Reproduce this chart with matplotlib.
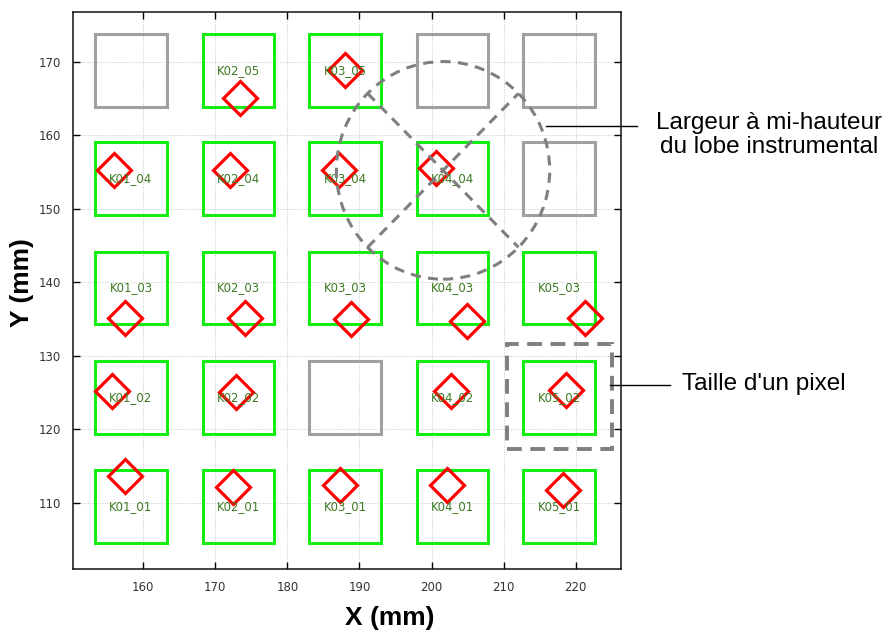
import matplotlib
matplotlib.use("Agg")
import matplotlib.pyplot as plt
from matplotlib.patches import Rectangle, Ellipse
from matplotlib.lines import Line2D
import numpy as np

# Detector grid: column / row centres (mm) and pixel footprint
col_names = ["K01", "K02", "K03", "K04", "K05"]
col_x = [158.3, 173.2, 188.0, 202.9, 217.7]
row_names = ["01", "02", "03", "04", "05"]
row_y = [109.5, 124.3, 139.2, 154.1, 168.8]
pixel_side = 9.9

# Pixels that are not operational (drawn in grey, no label)
dead_pixels = ["K01_05", "K04_05", "K05_05", "K05_04", "K03_02"]

# Measured beam centroids for the working pixels (mm)
beam_names = ["K01_01", "K02_01", "K03_01", "K04_01", "K05_01",
              "K01_02", "K02_02", "K04_02", "K05_02",
              "K01_03", "K02_03", "K03_03", "K04_03", "K05_03",
              "K01_04", "K02_04", "K03_04", "K04_04",
              "K02_05", "K03_05"]
beam_x = [157.5, 172.5, 187.3, 202.2, 218.2,
          155.7, 172.9, 202.7, 218.6,
          157.5, 174.1, 188.8, 204.9, 221.3,
          156.0, 172.0, 187.2, 200.6,
          173.4, 188.0]
beam_y = [113.6, 112.1, 112.4, 112.4, 111.7,
          125.2, 125.0, 125.2, 125.3,
          135.1, 135.1, 135.0, 134.7, 135.1,
          155.2, 155.2, 155.2, 155.5,
          165.1, 168.8]

# Instrumental beam FWHM circle and pixel pitch box
fwhm_center = (201.6, 155.2)
fwhm_radius = 14.8
pitch_box_center = (217.75, 124.45)
pitch_box_size = (14.55, 14.3)

x_ticks = [160, 170, 180, 190, 200, 210, 220]
y_ticks = [110, 120, 130, 140, 150, 160, 170]

fig = plt.figure(figsize=(8.9, 6.31), dpi=100)
ax = fig.add_axes([0.0824, 0.0985, 0.6154, 0.8820])
ax.set_xlim(150.3, 226.3)
ax.set_ylim(101.0, 176.7)

ax.set_xticks(x_ticks)
ax.set_yticks(y_ticks)
ax.grid(True, color="#c8c8c8", linestyle=(0, (1, 1.5)), linewidth=0.7)
ax.set_axisbelow(True)
ax.tick_params(direction="in", length=5, width=1.0, top=True, right=True,
               labelsize=8.5, labelcolor="#333333", pad=9)
for lab in ax.get_xticklabels() + ax.get_yticklabels():
    lab.set_family("DejaVu Sans")
for sp in ax.spines.values():
    sp.set_linewidth(1.1)
    sp.set_color("#111111")

green = "#14ee14"
grey = "#a0a0a0"
label_color = "#3d7a22"

for ci, cname in enumerate(col_names):
    for ri, rname in enumerate(row_names):
        name = f"{cname}_{rname}"
        cx, cy = col_x[ci], row_y[ri]
        dead = name in dead_pixels
        ax.add_patch(Rectangle((cx - pixel_side / 2, cy - pixel_side / 2),
                               pixel_side, pixel_side, fill=False,
                               edgecolor=grey if dead else green,
                               linewidth=2.2, zorder=2))
        if not dead:
            ax.text(cx, cy, name, ha="center", va="center", fontsize=8.5,
                    color=label_color, zorder=4, family="DejaVu Sans")

ax.plot(beam_x, beam_y, linestyle="none", marker="D", markersize=17.5,
        markerfacecolor="none", markeredgecolor="#ff0000",
        markeredgewidth=2.3, zorder=3)

dash_grey = "#7f7f7f"
ax.add_patch(Ellipse(fwhm_center, 2 * fwhm_radius, 2 * fwhm_radius,
                     fill=False, edgecolor=dash_grey, linewidth=2.2,
                     linestyle=(0, (3.3, 2.4)), zorder=5))
d = fwhm_radius / np.sqrt(2)
cxf, cyf = fwhm_center
ax.plot([cxf - d, cxf + d], [cyf + d, cyf - d], color=dash_grey, lw=2.2,
        linestyle=(0, (3.3, 2.4)), zorder=5)
ax.plot([cxf - d, cxf + d], [cyf - d, cyf + d], color=dash_grey, lw=2.2,
        linestyle=(0, (3.3, 2.4)), zorder=5)

bx, by = pitch_box_center
bw, bh = pitch_box_size
ax.add_patch(Rectangle((bx - bw / 2, by - bh / 2), bw, bh, fill=False,
                       edgecolor=dash_grey, linewidth=2.8,
                       linestyle=(0, (3.8, 2.2)), zorder=5))

ax.set_xlabel("X (mm)", fontsize=19, fontweight="bold",
              family="Liberation Sans")
ax.set_ylabel("Y (mm)", fontsize=19, fontweight="bold",
              family="Liberation Sans")
ax.xaxis.set_label_coords(0.578, -0.066)
ax.yaxis.set_label_coords(-0.072, 0.515)

# Callouts
W, H = 890.0, 631.0
fig.add_artist(Line2D([546 / W, 637 / W], [1 - 126 / H, 1 - 126 / H],
                      color="black", linewidth=1.0))
fig.text(769 / W, 1 - 135 / H, "Largeur à mi-hauteur\ndu lobe instrumental",
         ha="center", va="center", multialignment="center", fontsize=17.5,
         linespacing=1.1, family="Liberation Sans", color="black")
fig.add_artist(Line2D([610 / W, 670 / W], [1 - 385 / H, 1 - 385 / H],
                      color="black", linewidth=1.0))
fig.text(682 / W, 1 - 384 / H, "Taille d'un pixel", ha="left", va="center",
         fontsize=17.5, family="Liberation Sans", color="black")

fig.savefig("out.png", dpi=100)
